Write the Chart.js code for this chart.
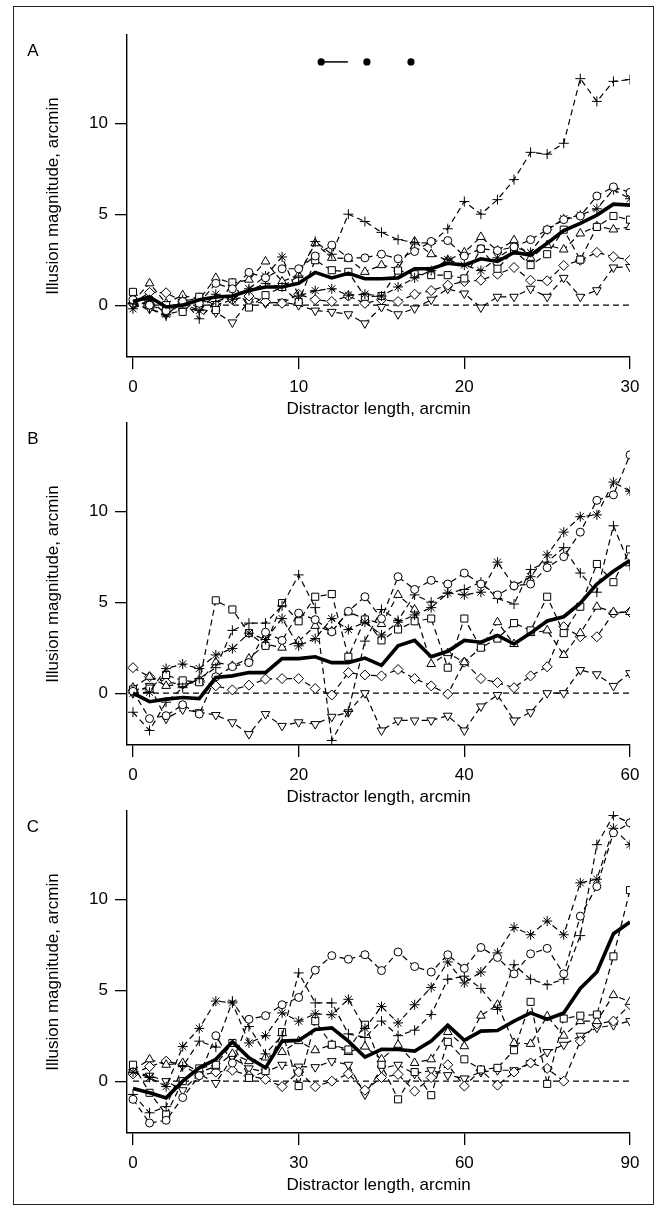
<!DOCTYPE html>
<html>
<head>
<meta charset="utf-8">
<script src="https://cdn.jsdelivr.net/npm/chart.js@4.4.1/dist/chart.umd.min.js"></script>
<style>
  body { margin: 0; background: #fff; }
  #page { position: relative; width: 657px; height: 1209px; }
  #frame { position: absolute; left: 13px; top: 6px; width: 639px; height: 1197px; border: 1px solid #222; }
  canvas { position: absolute; left: 0; }
</style>
</head>
<body>
<div id="page">
  <div id="frame"></div>
  <canvas id="chartA" width="657" height="425" style="top:0px"></canvas>
  <canvas id="chartB" width="657" height="425" style="top:388px"></canvas>
  <canvas id="chartC" width="657" height="425" style="top:776px"></canvas>
</div>
<script>
// distractor lengths (arcmin)
const xA = [0,1,2,3,4,5,6,7,8,9,10,11,12,13,14,15,16,17,18,19,20,21,22,23,24,25,26,27,28,29,30];
const xB = [0,2,4,6,8,10,12,14,16,18,20,22,24,26,28,30,32,34,36,38,40,42,44,46,48,50,52,54,56,58,60];
const xC = [0,3,6,9,12,15,18,21,24,27,30,33,36,39,42,45,48,51,54,57,60,63,66,69,72,75,78,81,84,87,90];

const ticksA = [0, 10, 20, 30];
const ticksB = [0, 20, 40, 60];
const ticksC = [0, 30, 60, 90];
const yTicks = [0, 5, 10];

// ---- panel A ----
const meanA = [0.2,0.45,-0.1,0.0,0.3,0.45,0.5,0.8,1.0,1.0, 1.2,1.8,1.5,1.75,1.45,1.45,1.5,2.0,2.0,2.3, 2.2,2.55,2.4,2.9,2.75,3.4,4.1,4.5,4.95,5.55, 5.5];
const circleA = [0.3,0.0,-0.3,0.2,0.1,1.2,0.9,1.8,1.5,2.0, 2.0,2.7,3.3,2.6,2.6,2.8,2.55,2.95,3.5,3.55, 2.7,3.1,3.0,3.2,3.6,4.15,4.7,4.9,6.0,6.5, 6.2];
const plusA = [0.1,-0.2,-0.6,0.3,-0.75,0.2,0.5,0.8,1.2,1.0, 1.6,3.5,2.8,5.0,4.6,4.0,3.6,3.45,3.4,4.2, 5.7,5.0,5.8,6.9,8.4,8.3,8.9,12.45,11.2,12.3, 12.4];
const starA = [-0.2,0.3,-0.5,0.1,-0.3,0.6,0.3,0.9,1.6,2.65, 0.5,0.8,0.9,0.55,0.6,0.5,1.0,1.5,1.9,2.5, 2.2,1.9,2.6,3.2,2.9,4.15,4.75,4.95,5.3,6.35, 5.85];
const squareA = [0.73,0.05,0.0,-0.37,0.46,-0.27,1.25,-0.13,0.55,1.0, 0.18,2.47,1.92,1.83,0.46,0.5,1.9,1.7,1.65,1.65, 1.47,3.1,2.0,3.0,2.2,2.8,4.15,2.5,4.3,4.9, 4.7];
const triUpA = [0.2,1.2,0.1,0.55,0.3,1.5,1.2,1.4,2.4,1.3, 1.65,3.4,2.6,2.56,1.83,2.2,2.0,3.5,2.8,2.47, 2.9,3.75,3.0,3.57,2.6,3.3,3.06,3.94,4.34,4.16, 4.3];
const diamondA = [0.1,0.7,0.68,0.2,0.4,0.0,0.3,0.5,0.2,0.1, 0.6,0.3,0.2,0.5,0.1,0.3,0.2,0.6,0.8,1.1, 1.3,1.37,1.7,2.07,1.37,1.34,2.18,2.47,2.9,2.66, 2.47];
const triDownA = [0.0,-0.2,-0.5,-0.3,-0.2,-0.4,-0.95,0.2,0.1,0.18, 0.0,-0.3,-0.37,-0.5,-1.0,-0.1,-0.5,-0.18,0.3,0.9, 0.64,-0.13,0.46,0.46,0.9,0.46,1.5,0.46,0.82,2.07, 2.1];

// ---- panel B ----
const meanB = [0.0,-0.47,-0.33,-0.24,-0.3,0.86,0.95,1.13,1.13,1.9, 1.9,2.0,1.68,1.68,1.93,1.53,2.6,2.9,2.0,2.3, 2.9,2.8,3.17,2.7,3.3,3.97,4.2,4.95,6.0,6.7, 7.3];
const circleB = [0.1,-1.4,-1.24,-0.64,-1.15,0.9,1.46,1.68,3.35,2.9, 4.4,4.04,3.37,4.5,5.3,4.1,6.4,5.7,6.2,6.0, 6.6,6.0,5.4,5.9,6.0,6.9,7.5,8.85,10.6,10.9, 13.1];
const starB = [0.0,0.05,1.35,1.6,1.35,2.1,2.45,3.3,2.95,4.1, 2.6,3.0,4.1,3.5,3.9,3.2,3.9,4.3,4.7,5.5, 5.4,5.55,7.2,5.9,6.4,7.6,8.85,9.7,9.8,11.6, 11.1];
const plusB = [-1.05,-2.05,-0.5,0.3,0.8,1.4,3.45,3.85,3.85,4.8, 6.5,4.7,-2.6,-1.0,2.86,4.6,4.0,5.4,5.0,5.5, 5.7,6.1,5.2,4.9,6.8,7.2,8.0,6.6,5.55,9.2, 7.0];
const squareB = [0.2,0.25,1.0,0.7,0.6,5.1,4.6,3.3,2.6,4.95, 3.95,5.3,5.45,2.0,4.05,2.9,3.5,3.95,4.1,1.4, 4.1,2.5,3.0,3.85,3.45,5.3,3.3,4.75,7.1,6.1, 7.9];
const triUpB = [0.3,0.9,0.4,0.5,0.6,1.7,1.5,1.9,2.7,2.5, 2.86,3.7,3.4,4.45,4.1,3.8,5.4,4.6,1.6,2.2, 1.7,2.5,3.9,2.7,3.3,3.45,2.1,3.3,4.75,4.46, 4.46];
const diamondB = [1.4,0.9,0.6,0.5,0.7,0.4,0.18,0.44,0.77,0.8, 0.8,0.25,-0.1,1.13,1.0,0.95,1.3,0.8,0.4,-0.05, 1.7,0.8,0.58,0.3,0.95,1.45,3.65,3.1,3.1,4.4, 4.46];
const triDownB = [0.0,0.4,-1.4,-0.9,-1.05,-1.2,-1.6,-2.25,-1.15,-1.8, -1.6,-1.7,-1.3,-1.05,0.0,-2.05,-1.5,-1.5,-1.5,-1.24, -2.05,-0.73,-0.1,-1.5,-1.05,0.0,0.0,1.27,1.04,0.4, 1.1];

// ---- panel C ----
const meanC = [-0.4,-0.64,-0.92,0.0,0.73,1.2,2.16,1.28,0.73,2.2, 2.24,2.84,2.93,2.2,1.32,1.75,1.74,1.65,2.2,3.08, 2.24,2.75,2.78,3.3,3.75,3.4,3.75,5.1,6.0,8.1, 8.75];
const circleC = [-1.0,-2.3,-2.15,-0.9,0.3,2.5,1.0,3.4,3.6,4.2, 4.6,6.1,6.9,6.7,6.95,6.08,7.1,6.3,6.0,6.95, 6.2,7.35,6.8,5.9,7.0,7.3,5.9,9.07,10.7,13.65, 14.2];
const starC = [0.5,0.2,-0.3,1.9,2.9,4.4,4.3,2.1,2.5,3.75, 3.3,3.7,3.65,4.5,2.9,4.1,3.2,4.2,5.15,6.55, 5.4,6.0,7.05,8.45,8.05,8.8,8.05,10.9,11.1,13.9, 13.0];
const plusC = [-0.73,-1.74,-1.4,0.8,2.2,1.87,4.4,3.0,1.5,2.5, 5.95,4.3,4.3,2.6,2.4,3.3,2.5,2.8,3.66,5.6, 5.77,5.1,3.94,6.4,5.6,5.3,5.6,8.0,13.0,14.6, 14.2];
const squareC = [0.9,-0.64,-1.83,0.0,0.7,0.9,2.1,0.18,0.55,2.7, -0.27,3.3,2.0,1.74,3.1,0.9,-1.0,0.5,-0.77,2.16, 1.2,0.64,0.73,1.7,4.36,-0.15,3.44,3.6,3.66,6.86, 10.5];
const triUpC = [0.6,1.2,0.9,1.0,0.5,0.8,1.5,1.1,1.3,1.6, 2.2,1.7,2.0,1.6,1.9,1.2,2.0,1.0,1.2,2.7, 1.92,3.6,4.2,2.1,2.05,3.57,2.5,3.3,3.3,4.73, 4.36];
const diamondC = [0.4,0.8,1.1,0.9,0.3,0.5,0.6,0.3,0.1,-0.3, 0.5,-0.3,0.0,0.4,-0.5,0.2,0.37,-0.55,0.2,0.9, -0.27,0.6,-0.22,0.5,1.0,0.7,0.0,2.2,3.15,3.3, 4.2];
const triDownC = [0.5,0.3,0.0,-0.5,0.4,-0.1,1.3,0.7,0.5,0.9, 0.8,0.77,1.1,0.9,-0.73,0.7,0.9,0.4,0.6,0.33, 0.15,0.5,0.6,0.6,1.0,1.6,2.0,2.5,2.93,3.08, 3.3];

// marker for each subject, same order in every panel
const markers = [
  { style: 'circle', radius: 4, rot: 0 },
  { style: 'cross', radius: 5, rot: 0 },
  { style: 'star', radius: 5, rot: 0 },
  { style: 'rect', radius: 5, rot: 0 },
  { style: 'triangle', radius: 5, rot: 0 },
  { style: 'rectRot', radius: 5, rot: 0 },
  { style: 'triangle', radius: 5, rot: 180 }
];

const FONT = '"Liberation Sans", Arial, Helvetica, sans-serif';

const toXY = (xs, ys) => xs.map((x, i) => ({ x: x, y: ys[i] }));

// panel letter + the little stimulus sketch on top of panel A
const panelLetter = {
  id: 'panelLetter',
  afterDraw(chart, args, opts) {
    const ctx = chart.ctx;
    ctx.save();
    ctx.font = '17px ' + FONT;
    ctx.fillStyle = '#000';
    ctx.textAlign = 'center';
    ctx.textBaseline = 'middle';
    ctx.fillText(opts.text, 33, 51);
    if (opts.stimulus) {
      const xs = chart.scales.x, ys = chart.scales.y;
      const yy = ys.getPixelForValue(13.37);
      ctx.strokeStyle = '#000';
      ctx.lineWidth = 1.5;
      ctx.beginPath();
      ctx.moveTo(xs.getPixelForValue(11.36), yy);
      ctx.lineTo(xs.getPixelForValue(12.97), yy);
      ctx.stroke();
      [11.36, 14.12, 16.78].forEach(v => {
        ctx.beginPath();
        ctx.arc(xs.getPixelForValue(v), yy, 3.6, 0, Math.PI * 2);
        ctx.fill();
      });
    }
    ctx.restore();
  }
};

function buildPanel(id, letter, xs, xMin, xMax, xTickVals, mean, subjects, stimulus) {
  const datasets = [];
  // mean first so it is drawn on top
  datasets.push({
    data: toXY(xs, mean),
    borderColor: '#000', borderWidth: 3.6, pointRadius: 0, tension: 0
  });
  subjects.forEach((ys, i) => {
    const m = markers[i];
    datasets.push({
      data: toXY(xs, ys),
      borderColor: '#000', borderWidth: 1.2, borderDash: [6, 4],
      pointStyle: m.style, pointRadius: m.radius, pointRotation: m.rot,
      pointBorderColor: '#000', pointBackgroundColor: '#fff', pointBorderWidth: 1,
      tension: 0
    });
  });
  // zero reference line
  datasets.push({
    data: [{ x: xs[0], y: 0 }, { x: xs[xs.length - 1], y: 0 }],
    borderColor: '#000', borderWidth: 1.2, borderDash: [6, 4], pointRadius: 0
  });

  return new Chart(document.getElementById(id).getContext('2d'), {
    type: 'line',
    data: { datasets: datasets },
    plugins: [panelLetter],
    options: {
      responsive: false,
      animation: false,
      devicePixelRatio: 1,
      layout: { padding: { left: 0, right: 27, top: 35, bottom: 0 } },
      plugins: {
        legend: { display: false },
        tooltip: { enabled: false },
        panelLetter: { text: letter, stimulus: stimulus }
      },
      scales: {
        x: {
          type: 'linear', min: xMin, max: xMax,
          afterBuildTicks: s => { s.ticks = xTickVals.map(v => ({ value: v })); },
          afterFit: s => { s.height = 68; },
          grid: { drawOnChartArea: false, drawTicks: true, tickLength: 12, color: '#000', lineWidth: 1.3 },
          border: { display: true, color: '#000', width: 1.4 },
          ticks: { color: '#000', padding: 8, font: { family: FONT, size: 17 }, maxRotation: 0 },
          title: { display: true, text: 'Distractor length, arcmin', color: '#000',
                   font: { family: FONT, size: 17 }, padding: { top: 0, bottom: 5 } }
        },
        y: {
          type: 'linear', min: -2.85, max: 14.85,
          afterBuildTicks: s => { s.ticks = yTicks.map(v => ({ value: v })); },
          afterFit: s => { s.width = 127; },
          grid: { drawOnChartArea: false, drawTicks: true, tickLength: 12, color: '#000', lineWidth: 1.3 },
          border: { display: true, color: '#000', width: 1.4 },
          ticks: { color: '#000', padding: 7, font: { family: FONT, size: 17 } },
          title: { display: true, text: 'Illusion magnitude, arcmin', color: '#000',
                   font: { family: FONT, size: 17 }, padding: { top: 43, bottom: 0 } }
        }
      }
    }
  });
}

buildPanel('chartA', 'A', xA, -0.36, 30, ticksA, meanA,
  [circleA, plusA, starA, squareA, triUpA, diamondA, triDownA], true);
buildPanel('chartB', 'B', xB, -0.72, 60, ticksB, meanB,
  [circleB, plusB, starB, squareB, triUpB, diamondB, triDownB], false);
buildPanel('chartC', 'C', xC, -1.09, 90, ticksC, meanC,
  [circleC, plusC, starC, squareC, triUpC, diamondC, triDownC], false);
</script>
</body>
</html>
